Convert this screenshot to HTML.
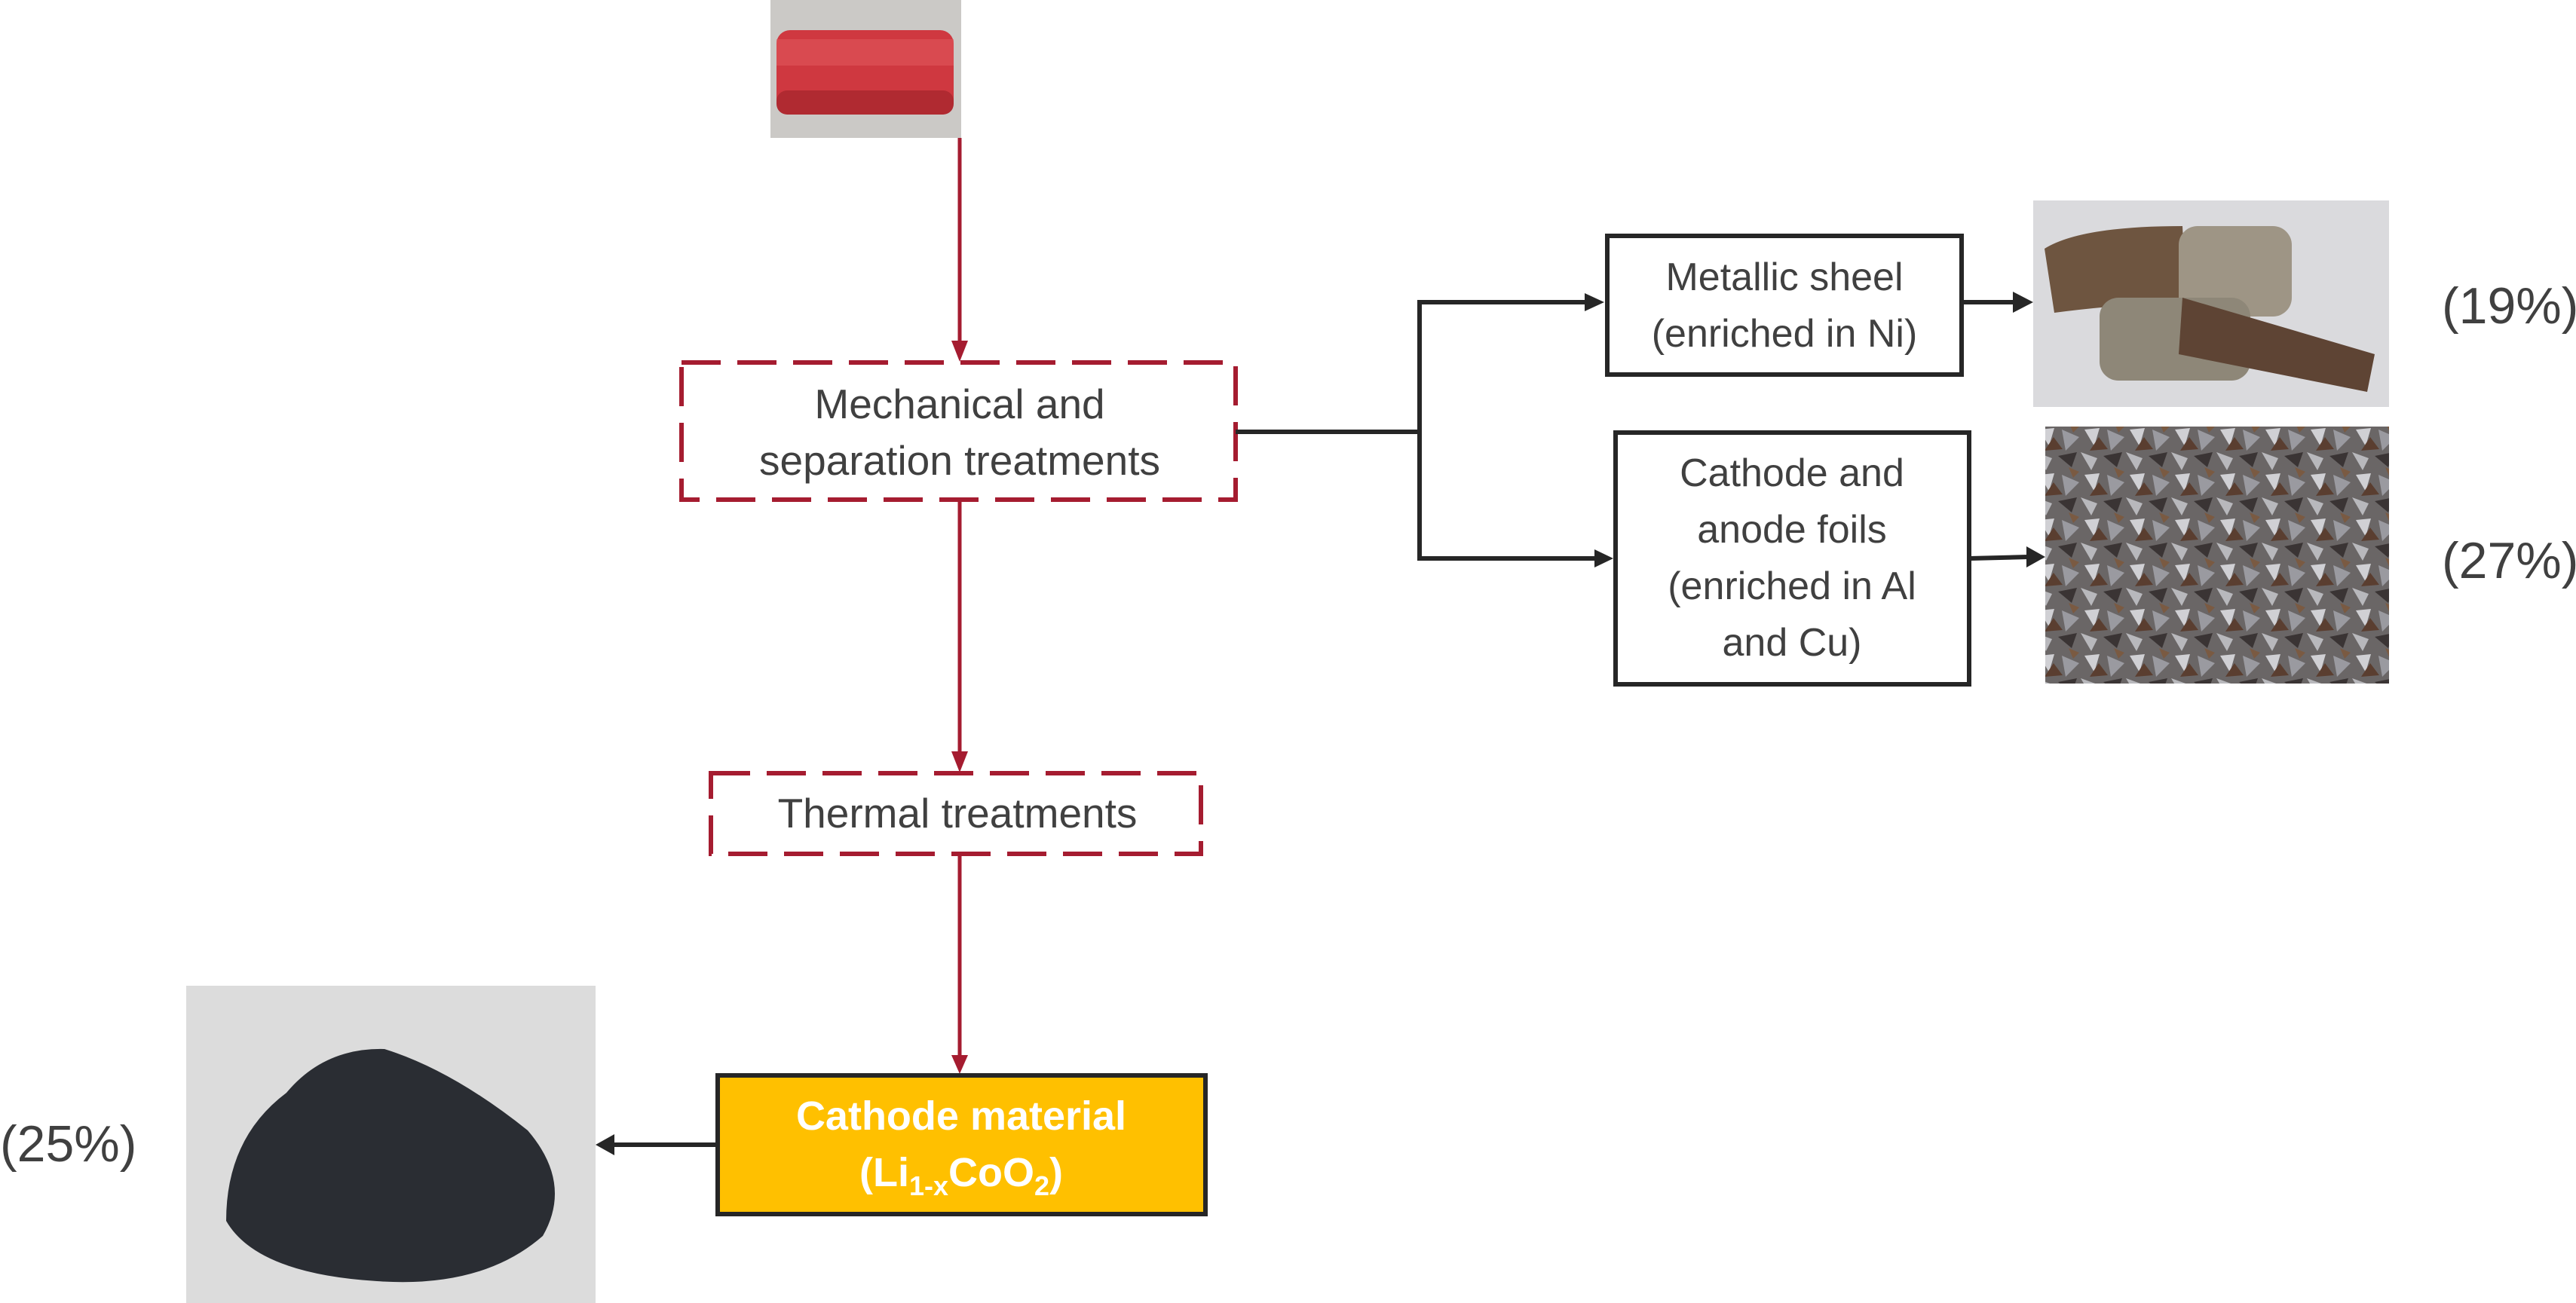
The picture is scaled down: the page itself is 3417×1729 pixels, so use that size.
<!DOCTYPE html>
<html><head><meta charset="utf-8"><style>
html,body{margin:0;padding:0;background:#fff;}
svg{display:block;}
text{font-family:"Liberation Sans",sans-serif;fill:#404040;}
</style></head><body>
<svg width="3417" height="1729" viewBox="0 0 3417 1729" xmlns="http://www.w3.org/2000/svg">
<defs>
<pattern id="flk" width="60" height="60" patternUnits="userSpaceOnUse">
<rect width="60" height="60" fill="#6a6666"/>
<polygon points="0,0 22,8 14,24" fill="#b8b8bc"/>
<polygon points="30,5 55,0 48,20" fill="#3a3434"/>
<polygon points="5,30 25,28 18,52" fill="#d0d0d4"/>
<polygon points="35,30 58,40 40,58" fill="#9a9aa0"/>
<polygon points="24,40 36,56 12,58" fill="#5a3e30"/>
<polygon points="44,20 58,26 50,34" fill="#7a5a42"/>
</pattern>
</defs>

<!-- battery photo -->
<rect x="1022" y="0" width="253" height="183" fill="#cbc9c6"/>
<rect x="1030" y="40" width="235" height="112" rx="18" fill="#cf3840"/>
<rect x="1030" y="52" width="235" height="35" fill="#e0565c" opacity="0.6"/>
<rect x="1030" y="120" width="235" height="32" rx="14" fill="#b02a31"/>

<!-- red arrows -->
<g stroke="#a51c30" stroke-width="5" fill="none">
<line x1="1273" y1="183" x2="1273" y2="455"/>
<line x1="1273" y1="665" x2="1273" y2="1000"/>
<line x1="1273" y1="1134" x2="1273" y2="1405"/>
</g>
<g fill="#a51c30">
<polygon points="1262,452 1284,452 1273,480"/>
<polygon points="1262,997 1284,997 1273,1025"/>
<polygon points="1262,1400 1284,1400 1273,1425"/>
</g>

<!-- mechanical box -->
<rect x="904" y="481" width="735" height="182" fill="none" stroke="#a51c30" stroke-width="6" stroke-dasharray="52,22"/>
<text x="1273" y="555" font-size="55" text-anchor="middle">Mechanical and</text>
<text x="1273" y="630" font-size="55" text-anchor="middle">separation treatments</text>

<!-- thermal box -->
<rect x="943" y="1026" width="650" height="107" fill="none" stroke="#a51c30" stroke-width="6" stroke-dasharray="52,22"/>
<text x="1270" y="1098" font-size="55" text-anchor="middle">Thermal treatments</text>

<!-- cathode box -->
<rect x="952" y="1427" width="647" height="184" fill="#ffc000" stroke="#262626" stroke-width="6"/>
<text x="1275" y="1499" font-size="54" font-weight="bold" text-anchor="middle" style="fill:#fff">Cathode material</text>
<text x="1275" y="1574" font-size="54" font-weight="bold" text-anchor="middle" style="fill:#fff">(Li<tspan font-size="36" dy="12">1-x</tspan><tspan dy="-12">CoO</tspan><tspan font-size="36" dy="12">2</tspan><tspan dy="-12">)</tspan></text>

<!-- black connectors -->
<g stroke="#262626" stroke-width="6" fill="none">
<line x1="950" y1="1519" x2="810" y2="1519"/>
<line x1="1639" y1="573" x2="1883" y2="573"/>
<line x1="1883" y1="401" x2="1883" y2="741"/>
<line x1="1880" y1="401" x2="2105" y2="401"/>
<line x1="1880" y1="741" x2="2118" y2="741"/>
<line x1="2603" y1="401" x2="2672" y2="401"/>
<line x1="2613" y1="741" x2="2690" y2="739"/>
</g>
<g fill="#262626">
<polygon points="815,1505 815,1533 790,1519"/>
<polygon points="2102,389 2102,413 2128,401"/>
<polygon points="2115,729 2115,753 2140,741"/>
<polygon points="2670,387 2670,415 2697,401"/>
<polygon points="2688,725 2688,753 2713,739"/>
</g>

<!-- metallic box -->
<rect x="2132" y="313" width="470" height="184" fill="#fff" stroke="#262626" stroke-width="6"/>
<text x="2367" y="385" font-size="52" text-anchor="middle">Metallic sheel</text>
<text x="2367" y="460" font-size="52" text-anchor="middle">(enriched in Ni)</text>

<!-- foils box -->
<rect x="2143" y="574" width="469" height="334" fill="#fff" stroke="#262626" stroke-width="6"/>
<text x="2377" y="645" font-size="52" text-anchor="middle">Cathode and</text>
<text x="2377" y="720" font-size="52" text-anchor="middle">anode foils</text>
<text x="2377" y="795" font-size="52" text-anchor="middle">(enriched in Al</text>
<text x="2377" y="870" font-size="52" text-anchor="middle">and Cu)</text>

<!-- sheel photo -->
<rect x="2697" y="266" width="472" height="274" fill="#dadadd"/>
<path d="M2712 330 Q2760 300 2895 300 L2900 400 Q2800 405 2725 415 Z" fill="#6e5540"/>
<rect x="2890" y="300" width="150" height="120" rx="25" fill="#9e9585"/>
<rect x="2785" y="395" width="200" height="110" rx="25" fill="#8e8778"/>
<path d="M2895 395 L3150 470 L3140 520 L2890 470 Z" fill="#5e4434"/>

<!-- foils photo -->
<rect x="2713" y="566" width="456" height="341" fill="url(#flk)"/>

<!-- powder photo -->
<rect x="247" y="1308" width="543" height="421" fill="#dcdcdc"/>
<path d="M380 1450 Q430 1390 510 1392 Q600 1420 700 1500 Q760 1570 720 1640 Q640 1710 500 1700 Q340 1690 300 1620 Q300 1510 380 1450 Z" fill="#2a2d33"/>

<!-- percentages -->
<text x="0" y="1541" font-size="68">(25%)</text>
<text x="3239" y="429" font-size="68">(19%)</text>
<text x="3239" y="767" font-size="68">(27%)</text>
</svg>
</body></html>
